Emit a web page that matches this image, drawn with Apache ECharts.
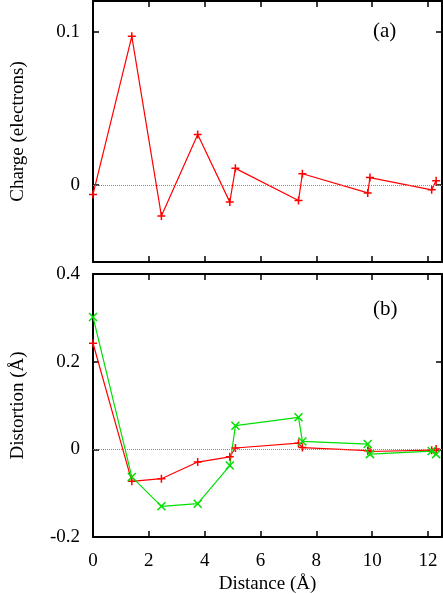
<!DOCTYPE html>
<html>
<head>
<meta charset="utf-8">
<script src="https://cdn.jsdelivr.net/npm/echarts@6/dist/echarts.min.js"></script>
<style>
  html, body { margin: 0; padding: 0; background: #fff; }
  #chart { width: 443px; height: 594px; }
</style>
</head>
<body>
<div id="chart"></div>
<script>
// distances along the chain (Å), shared by both panels
const distance = [0, 1.39, 2.45, 3.75, 4.90, 5.10, 7.36, 7.50, 9.84, 9.92, 12.13, 12.29];
// panel (a): charge in electrons
const charge = [-0.006, 0.097, -0.020, 0.033, -0.011, 0.011, -0.010, 0.0075, -0.005, 0.005, -0.003, 0.003];
// panel (b): distortion in Å, two series
const distortionRed = [0.242, -0.073, -0.067, -0.029, -0.017, 0.003, 0.014, 0.004, -0.003, -0.005, -0.002, 0.001];
const distortionGreen = [0.302, -0.063, -0.130, -0.124, -0.037, 0.054, 0.073, 0.018, 0.012, -0.011, -0.004, -0.011];
const xTicks = [0, 2, 4, 6, 8, 10, 12];
const chargeTicks = [0, 0.1];
const distortionTicks = [-0.2, 0, 0.2, 0.4];

const font = 'Liberation Serif';
const plus = 'path://M0,-1L0,1M-1,0L1,0';
const cross = 'path://M-1,-1L1,1M-1,1L1,-1';

const pairs = (ys) => distance.map((x, i) => [x, ys[i]]);

const axisLine = { show: true, onZero: false, lineStyle: { color: '#000', width: 2 } };
const tick = (vals) => ({ show: true, inside: true, length: 6, lineStyle: { color: '#000', width: 1.5 }, customValues: vals });
const labelStyle = { color: '#000', fontFamily: font, fontSize: 19 };

const xAxisBase = (grid, pos, showLabel, name) => ({
  type: 'value',
  gridIndex: grid,
  position: pos,
  min: 0,
  max: 12.5,
  axisLine: axisLine,
  axisTick: tick(xTicks),
  axisLabel: showLabel ? Object.assign({ margin: 15, customValues: xTicks }, labelStyle) : { show: false },
  splitLine: { show: false },
  name: name || '',
  nameLocation: 'middle',
  nameGap: 38,
  nameTextStyle: labelStyle,
});

const yAxisBase = (grid, pos, min, max, ticks, showLabel, name) => ({
  type: 'value',
  gridIndex: grid,
  position: pos,
  min: min,
  max: max,
  axisLine: axisLine,
  axisTick: tick(ticks),
  axisLabel: showLabel ? Object.assign({ margin: 13, customValues: ticks }, labelStyle) : { show: false },
  splitLine: { show: false },
  name: name || '',
  nameLocation: 'middle',
  nameGap: 65,
  nameTextStyle: labelStyle,
});

const zeroLine = {
  silent: true,
  symbol: 'none',
  label: { show: false },
  lineStyle: { color: '#888', type: 'dotted', width: 1 },
  data: [{ yAxis: 0 }],
};

const lineSeries = (name, xi, yi, ys, color, symbol, extra) => Object.assign({
  name: name,
  type: 'line',
  xAxisIndex: xi,
  yAxisIndex: yi,
  data: pairs(ys),
  symbol: symbol,
  symbolSize: 8,
  showAllSymbol: true,
  lineStyle: { color: color, width: 1.2 },
  itemStyle: { color: 'none', borderColor: color, borderWidth: 1.5 },
  clip: false,
}, extra || {});

const chart = echarts.init(document.getElementById('chart'));
chart.setOption({
  animation: false,
  backgroundColor: '#fff',
  textStyle: { fontFamily: font },
  grid: [
    { left: 93, right: 1, top: 1, height: 261, outerBoundsMode: 'none' },
    { left: 93, right: 1, top: 274, height: 263, outerBoundsMode: 'none' },
  ],
  xAxis: [
    xAxisBase(0, 'bottom', false),
    xAxisBase(0, 'top', false),
    xAxisBase(1, 'bottom', true, 'Distance (Å)'),
    xAxisBase(1, 'top', false),
  ],
  yAxis: [
    yAxisBase(0, 'left', -0.05, 0.12, chargeTicks, true, 'Charge (electrons)'),
    yAxisBase(0, 'right', -0.05, 0.12, chargeTicks, false),
    yAxisBase(1, 'left', -0.2, 0.4, distortionTicks, true, 'Distortion (Å)'),
    yAxisBase(1, 'right', -0.2, 0.4, distortionTicks, false),
  ],
  graphic: [
    { type: 'text', left: 373, top: 21, style: { text: '(a)', fontFamily: font, fontSize: 21, fill: '#000' } },
    { type: 'text', left: 373, top: 299, style: { text: '(b)', fontFamily: font, fontSize: 21, fill: '#000' } },
  ],
  series: [
    lineSeries('charge', 0, 0, charge, '#ff0000', plus, { markLine: zeroLine }),
    lineSeries('distortion 1', 2, 2, distortionRed, '#ff0000', plus, { markLine: zeroLine }),
    lineSeries('distortion 2', 2, 2, distortionGreen, '#00e000', cross),
  ],
});
</script>
</body>
</html>
